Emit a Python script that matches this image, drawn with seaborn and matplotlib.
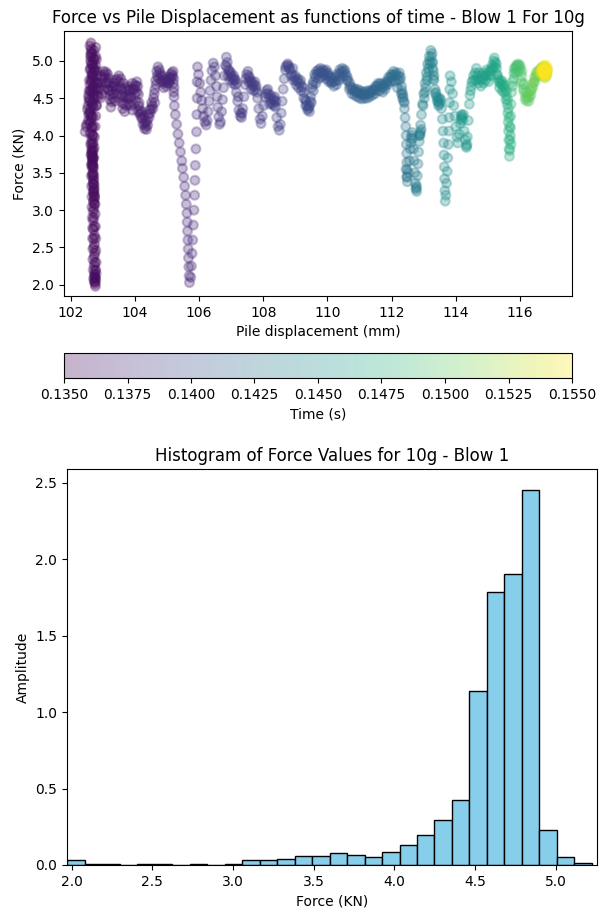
import numpy as np
import pandas as pd
import matplotlib
matplotlib.use("Agg")
import matplotlib.pyplot as plt
import seaborn as sns
from matplotlib.colors import Normalize
from matplotlib.cm import ScalarMappable
from matplotlib.ticker import FormatStrFormatter

# ---------------------------------------------------------------
# Blow 1 (10g): force vs pile displacement, sampled in time order
# ---------------------------------------------------------------

# initial impact at ~102.7 mm (force swings 2 -> 5.2 kN several times)
impact_disp = [102.62, 102.64, 102.62, 102.63, 102.64, 102.63, 102.66, 102.68, 102.70, 102.70,
               102.71, 102.71, 102.70, 102.70, 102.69, 102.68, 102.67, 102.67, 102.68, 102.69,
               102.70, 102.70, 102.71, 102.72, 102.72, 102.73, 102.74, 102.74, 102.75, 102.75,
               102.76, 102.76, 102.76, 102.77, 102.78, 102.79, 102.79, 102.78, 102.78, 102.77,
               102.76, 102.75, 102.74, 102.72, 102.70, 102.69, 102.68, 102.67, 102.66, 102.67,
               102.68, 102.68, 102.66, 102.66, 102.66, 102.66, 102.67, 102.68, 102.69, 102.70,
               102.71, 102.72, 102.73, 102.74, 102.74, 102.72, 102.68, 102.62, 102.55, 102.48,
               102.45, 102.50, 102.58, 102.66, 102.72, 102.78, 102.74, 102.70, 102.68, 102.70,
               102.74, 102.80, 102.86]
impact_force = [4.60, 4.75, 4.90, 5.05, 5.16, 5.24, 5.10, 4.95, 4.80, 4.65,
                4.50, 4.38, 4.25, 4.12, 4.00, 3.88, 3.78, 3.68, 3.58, 3.46,
                3.35, 3.24, 3.13, 3.02, 2.90, 2.78, 2.66, 2.54, 2.42, 2.30,
                2.19, 2.09, 2.01, 1.98, 2.06, 2.15, 2.30, 2.46, 2.62, 2.78,
                2.95, 3.08, 3.20, 3.30, 3.42, 3.55, 3.65, 3.74, 3.83, 3.72,
                3.62, 3.70, 3.80, 3.95, 4.10, 4.26, 4.42, 4.58, 4.74, 4.90,
                5.04, 5.14, 5.02, 4.86, 4.70, 4.55, 4.40, 4.28, 4.20, 4.12,
                4.05, 4.15, 4.30, 4.45, 4.60, 4.72, 4.88, 5.00, 4.82, 4.62,
                4.48, 4.40, 4.52]
impact_time = [0.13500, 0.13501, 0.13502, 0.13504, 0.13505, 0.13506, 0.13507, 0.13508, 0.13510, 0.13511,
               0.13512, 0.13513, 0.13514, 0.13516, 0.13517, 0.13518, 0.13519, 0.13520, 0.13522, 0.13523,
               0.13524, 0.13525, 0.13526, 0.13528, 0.13529, 0.13530, 0.13531, 0.13532, 0.13534, 0.13535,
               0.13536, 0.13537, 0.13538, 0.13540, 0.13541, 0.13542, 0.13543, 0.13544, 0.13546, 0.13547,
               0.13548, 0.13549, 0.13550, 0.13552, 0.13553, 0.13554, 0.13555, 0.13556, 0.13558, 0.13559,
               0.13560, 0.13561, 0.13562, 0.13564, 0.13565, 0.13566, 0.13567, 0.13568, 0.13570, 0.13571,
               0.13572, 0.13573, 0.13574, 0.13576, 0.13577, 0.13578, 0.13579, 0.13580, 0.13582, 0.13583,
               0.13584, 0.13585, 0.13586, 0.13588, 0.13589, 0.13590, 0.13591, 0.13592, 0.13594, 0.13595,
               0.13596, 0.13597, 0.13598]

# further oscillation samples at the impact location
impact2_disp = [102.60, 102.62, 102.64, 102.66, 102.64, 102.62, 102.60, 102.62, 102.64, 102.66,
                102.68, 102.70, 102.71, 102.70, 102.69, 102.70, 102.72, 102.73, 102.74, 102.75,
                102.74, 102.72, 102.70, 102.68, 102.66, 102.65, 102.64, 102.63, 102.62, 102.60,
                102.58, 102.57, 102.58, 102.60, 102.62, 102.64,
                102.74, 102.75, 102.77, 102.78,
                102.80, 102.84, 102.88, 102.82, 102.78, 102.56, 102.52]
impact2_force = [5.20, 5.08, 4.96, 4.84, 4.72, 4.60, 4.48, 4.36, 4.24, 4.12,
                 4.00, 3.90, 3.80, 3.70, 3.60, 3.50, 3.40, 3.28, 3.18, 3.08,
                 3.16, 3.26, 3.36, 3.48, 3.62, 3.76, 3.90, 4.04, 4.18, 4.32,
                 4.46, 4.60, 4.74, 4.88, 5.00, 5.12,
                 2.12, 2.04, 2.10, 2.20,
                 4.62, 4.70, 4.64, 4.80, 4.94, 4.50, 4.35]
impact2_time = [0.13520, 0.13521, 0.13523, 0.13524, 0.13526, 0.13527, 0.13529, 0.13530, 0.13532, 0.13533,
                0.13535, 0.13536, 0.13538, 0.13539, 0.13541, 0.13542, 0.13544, 0.13545, 0.13547, 0.13548,
                0.13550, 0.13551, 0.13553, 0.13554, 0.13556, 0.13557, 0.13559, 0.13560, 0.13562, 0.13563,
                0.13565, 0.13566, 0.13568, 0.13569, 0.13571, 0.13572,
                0.13540, 0.13541, 0.13542, 0.13543,
                0.13585, 0.13587, 0.13589, 0.13591, 0.13593, 0.13580, 0.13582]

impact3_disp = [102.78, 102.80, 102.82, 102.84, 102.82, 102.80, 102.78, 102.76, 102.74, 102.73,
                102.72, 102.71, 102.72, 102.73, 102.72, 102.71, 102.70, 102.70, 102.71, 102.72,
                102.72, 102.73, 102.73, 102.74, 102.74,
                102.71, 102.70, 102.69, 102.69, 102.68, 102.68, 102.67, 102.66, 102.66, 102.65,
                102.64, 102.64, 102.63, 102.62, 102.60, 102.58, 102.56, 102.54, 102.56, 102.60,
                102.66, 102.72, 102.78]
impact3_force = [5.18, 5.02, 4.86, 4.70, 4.54, 4.40, 4.26, 4.12, 3.98, 3.84,
                 3.70, 3.58, 3.46, 3.34, 3.22, 3.10, 2.98, 2.86, 2.74, 2.62,
                 2.50, 2.38, 2.26, 2.14, 2.04,
                 2.08, 2.20, 2.34, 2.48, 2.62, 2.76, 2.90, 3.04, 3.18, 3.32,
                 3.46, 3.60, 3.74, 3.88, 4.02, 4.16, 4.28, 4.40, 4.54, 4.68,
                 4.80, 4.92, 5.06]
impact3_time = [0.13525, 0.13526, 0.13528, 0.13529, 0.13531, 0.13532, 0.13534, 0.13535, 0.13537, 0.13538,
                0.13540, 0.13541, 0.13543, 0.13544, 0.13546, 0.13547, 0.13549, 0.13550, 0.13552, 0.13553,
                0.13555, 0.13556, 0.13558, 0.13559, 0.13561,
                0.13562, 0.13564, 0.13565, 0.13567, 0.13568, 0.13570, 0.13571, 0.13573, 0.13574, 0.13576,
                0.13577, 0.13579, 0.13580, 0.13582, 0.13583, 0.13585, 0.13586, 0.13588, 0.13589, 0.13591,
                0.13592, 0.13594, 0.13595]

# plateau between 102.9 and 105.2 mm
plateau_disp = [102.90, 102.95, 103.00, 103.05, 103.10, 103.15, 103.18, 103.20, 103.22, 103.25,
                103.28, 103.32, 103.36, 103.40, 103.45, 103.50, 103.55, 103.58, 103.60, 103.62,
                103.66, 103.70, 103.74, 103.78, 103.82, 103.85, 103.88, 103.92, 103.96, 104.00,
                104.03, 104.06, 104.09, 104.11, 104.13, 104.16, 104.20, 104.25, 104.30, 104.34,
                104.38, 104.42, 104.46, 104.50, 104.54, 104.58, 104.62, 104.65, 104.68, 104.72,
                104.76, 104.80, 104.85, 104.90, 104.95, 105.00, 105.05, 105.10, 105.15, 105.19,
                105.21, 105.22, 105.22]
plateau_force = [4.62, 4.70, 4.76, 4.82, 4.85, 4.82, 4.72, 4.60, 4.48, 4.38,
                 4.45, 4.56, 4.66, 4.74, 4.76, 4.72, 4.64, 4.54, 4.44, 4.36,
                 4.42, 4.52, 4.62, 4.66, 4.60, 4.50, 4.40, 4.34, 4.42, 4.55,
                 4.66, 4.72, 4.66, 4.55, 4.44, 4.34, 4.24, 4.15, 4.09, 4.12,
                 4.20, 4.28, 4.34, 4.36, 4.40, 4.50, 4.62, 4.74, 4.86, 4.92,
                 4.88, 4.80, 4.74, 4.70, 4.72, 4.74, 4.70, 4.76, 4.84, 4.86,
                 4.76, 4.64, 4.52]
plateau_time = [0.13600, 0.13602, 0.13604, 0.13606, 0.13608, 0.13610, 0.13612, 0.13614, 0.13616, 0.13617,
                0.13619, 0.13621, 0.13623, 0.13625, 0.13627, 0.13629, 0.13631, 0.13633, 0.13635, 0.13637,
                0.13639, 0.13641, 0.13643, 0.13645, 0.13647, 0.13648, 0.13650, 0.13652, 0.13654, 0.13656,
                0.13658, 0.13660, 0.13662, 0.13664, 0.13666, 0.13668, 0.13670, 0.13672, 0.13674, 0.13676,
                0.13678, 0.13679, 0.13681, 0.13683, 0.13685, 0.13687, 0.13689, 0.13691, 0.13693, 0.13695,
                0.13697, 0.13699, 0.13701, 0.13703, 0.13705, 0.13707, 0.13709, 0.13710, 0.13712, 0.13714,
                0.13716, 0.13718, 0.13720]

plateau2_disp = [102.92, 102.98, 103.04, 103.10, 103.16, 103.22, 103.28, 103.34, 103.40, 103.46,
                 103.52, 103.58, 103.64, 103.70, 103.76, 103.82, 103.88, 103.94, 104.00, 104.06,
                 104.12, 104.18, 104.24, 104.30, 104.36, 104.40, 104.48, 104.56, 104.62, 104.70,
                 104.78, 104.86, 104.94, 105.02, 105.08, 105.14, 105.20, 105.21]
plateau2_force = [4.50, 4.56, 4.62, 4.70, 4.62, 4.54, 4.60, 4.70, 4.62, 4.56,
                  4.50, 4.62, 4.70, 4.64, 4.50, 4.42, 4.52, 4.62, 4.68, 4.58,
                  4.40, 4.30, 4.22, 4.16, 4.08, 4.14, 4.30, 4.36, 4.44, 4.80,
                  4.84, 4.80, 4.76, 4.70, 4.72, 4.78, 4.70, 4.58]
plateau2_time = [0.13602, 0.13605, 0.13608, 0.13611, 0.13614, 0.13617, 0.13620, 0.13623, 0.13626, 0.13629,
                 0.13632, 0.13635, 0.13638, 0.13641, 0.13644, 0.13647, 0.13650, 0.13653, 0.13656, 0.13659,
                 0.13662, 0.13665, 0.13668, 0.13671, 0.13674, 0.13677, 0.13680, 0.13683, 0.13686, 0.13689,
                 0.13692, 0.13695, 0.13698, 0.13701, 0.13704, 0.13707, 0.13710, 0.13713]

plateau3_disp = [102.96, 103.02, 103.08, 103.14, 103.20, 103.26, 103.32, 103.38, 103.44, 103.50,
                 103.56, 103.62, 103.68, 103.74, 103.80, 103.86, 103.92, 103.98, 104.04, 104.10,
                 104.16, 104.22, 104.28, 104.34, 104.44, 104.52, 104.60, 104.66, 104.74, 104.82,
                 104.90, 104.98, 105.06, 105.12, 105.18]
plateau3_force = [4.80, 4.86, 4.78, 4.70, 4.76, 4.66, 4.50, 4.46, 4.64, 4.80,
                  4.76, 4.52, 4.32, 4.40, 4.54, 4.62, 4.70, 4.62, 4.46, 4.32,
                  4.28, 4.32, 4.26, 4.18, 4.24, 4.44, 4.56, 4.68, 4.76, 4.72,
                  4.64, 4.66, 4.78, 4.82, 4.80]
plateau3_time = [0.13604, 0.13607, 0.13610, 0.13613, 0.13616, 0.13619, 0.13622, 0.13625, 0.13628, 0.13631,
                 0.13634, 0.13637, 0.13640, 0.13643, 0.13646, 0.13649, 0.13652, 0.13655, 0.13658, 0.13661,
                 0.13664, 0.13667, 0.13670, 0.13673, 0.13679, 0.13684, 0.13689, 0.13692, 0.13697, 0.13702,
                 0.13706, 0.13709, 0.13712, 0.13714, 0.13716]

# second deep drop near 105.7 mm
drop_disp = [105.23, 105.26, 105.30, 105.34, 105.38, 105.42, 105.46, 105.48, 105.52, 105.55,
             105.58, 105.60, 105.62, 105.63, 105.64, 105.65, 105.66, 105.67, 105.68, 105.69,
             105.70,
             105.74, 105.76, 105.78, 105.80, 105.82, 105.84, 105.86, 105.87, 105.88, 105.90,
             105.92, 105.93, 105.94, 105.94, 105.95]
drop_force = [4.40, 4.28, 4.15, 4.02, 3.90, 3.78, 3.66, 3.56, 3.44, 3.32,
              3.20, 3.08, 2.96, 2.84, 2.72, 2.60, 2.48, 2.36, 2.24, 2.12,
              2.03,
              2.10, 2.25, 2.42, 2.60, 2.80, 3.00, 3.20, 3.40, 3.60, 3.82,
              4.05, 4.28, 4.50, 4.72, 4.92]
drop_time = [0.13722, 0.13723, 0.13724, 0.13725, 0.13726, 0.13727, 0.13728, 0.13729, 0.13730, 0.13731,
             0.13732, 0.13733, 0.13734, 0.13735, 0.13736, 0.13737, 0.13738, 0.13739, 0.13740, 0.13741,
             0.13742,
             0.13743, 0.13744, 0.13745, 0.13746, 0.13747, 0.13748, 0.13749, 0.13750, 0.13751, 0.13752,
             0.13753, 0.13754, 0.13755, 0.13756, 0.13757]

# oscillations between 106 and 108.8 mm
osc_disp = [105.98, 106.02, 106.05, 106.08, 106.11, 106.14, 106.18, 106.22, 106.25,
            106.28, 106.31, 106.34, 106.37, 106.40, 106.44, 106.48,
            106.51, 106.54, 106.56, 106.58, 106.61, 106.64, 106.67,
            106.70, 106.73, 106.76, 106.79, 106.82, 106.85, 106.88,
            106.92, 106.97, 107.02, 107.07, 107.12, 107.16, 107.20, 107.24, 107.28, 107.32,
            107.36, 107.40, 107.44, 107.48, 107.52, 107.57, 107.62, 107.67, 107.72, 107.77,
            107.82, 107.86, 107.90, 107.93, 107.97, 108.01, 108.05, 108.10, 108.15, 108.20,
            108.25, 108.30, 108.35, 108.38, 108.42, 108.46, 108.50, 108.53, 108.56, 108.59,
            108.62, 108.65, 108.69, 108.74, 108.79]
osc_force = [4.82, 4.70, 4.58, 4.47, 4.36, 4.26, 4.18, 4.14, 4.20,
             4.32, 4.46, 4.60, 4.74, 4.87, 4.97, 4.92,
             4.80, 4.66, 4.52, 4.38, 4.25, 4.15, 4.18,
             4.32, 4.48, 4.64, 4.80, 4.94, 5.05, 4.98,
             4.88, 4.82, 4.78, 4.74, 4.68, 4.58, 4.46, 4.34, 4.26, 4.24,
             4.36, 4.52, 4.68, 4.82, 4.86, 4.78, 4.70, 4.66, 4.68, 4.62,
             4.50, 4.36, 4.22, 4.16, 4.26, 4.40, 4.52, 4.60, 4.56, 4.50,
             4.44, 4.42, 4.46, 4.38, 4.24, 4.12, 4.07, 4.15, 4.30, 4.46,
             4.62, 4.76, 4.88, 4.94, 4.93]
osc_time = [0.13760, 0.13762, 0.13764, 0.13766, 0.13768, 0.13769, 0.13771, 0.13773, 0.13775, 0.13777,
            0.13779, 0.13781, 0.13783, 0.13785, 0.13786, 0.13788, 0.13790, 0.13792, 0.13794, 0.13796,
            0.13798, 0.13800, 0.13802, 0.13803, 0.13805, 0.13807, 0.13809, 0.13811, 0.13813, 0.13815,
            0.13817, 0.13819, 0.13820, 0.13822, 0.13824, 0.13826, 0.13828, 0.13830, 0.13832, 0.13834,
            0.13836, 0.13837, 0.13839, 0.13841, 0.13843, 0.13845, 0.13847, 0.13849, 0.13851, 0.13853,
            0.13854, 0.13856, 0.13858, 0.13860, 0.13862, 0.13864, 0.13866, 0.13868, 0.13870, 0.13871,
            0.13873, 0.13875, 0.13877, 0.13879, 0.13881, 0.13883, 0.13885, 0.13887, 0.13888, 0.13890,
            0.13892, 0.13894, 0.13896, 0.13898, 0.13900]

osc2_disp = [106.90, 106.96, 107.04, 107.10, 107.18, 107.55, 107.62, 107.70, 107.78,
             108.20, 108.28, 108.34, 108.40,
             106.86, 106.94, 107.00, 107.08, 107.14, 107.22, 107.30, 107.34, 107.46, 107.54,
             107.60, 107.66, 107.74, 107.80, 108.08, 108.14, 108.22, 108.32, 108.36, 108.70,
             108.76, 108.82]
osc2_force = [4.80, 4.74, 4.70, 4.76, 4.70, 4.72, 4.62, 4.60, 4.66,
              4.42, 4.48, 4.40, 4.46,
              4.92, 4.86, 4.84, 4.80, 4.74, 4.52, 4.30, 4.30, 4.76, 4.80,
              4.74, 4.72, 4.72, 4.58, 4.56, 4.62, 4.54, 4.50, 4.52, 4.92,
              4.96, 4.90]
osc2_time = [0.13812, 0.13815, 0.13818, 0.13821, 0.13824, 0.13844, 0.13847, 0.13850, 0.13853,
             0.13868, 0.13871, 0.13874, 0.13877,
             0.13810, 0.13814, 0.13817, 0.13820, 0.13823, 0.13827, 0.13831, 0.13833, 0.13840, 0.13844,
             0.13847, 0.13850, 0.13853, 0.13856, 0.13866, 0.13869, 0.13872, 0.13876, 0.13878, 0.13894,
             0.13897, 0.13901]

# steady push from 108.8 to 112.2 mm
steady_disp = [108.84, 108.90, 108.96, 109.02, 109.08, 109.14, 109.20, 109.26, 109.31, 109.36,
               109.40, 109.44, 109.48, 109.52, 109.56, 109.62, 109.68, 109.74, 109.80, 109.86,
               109.92, 109.98, 110.04, 110.10, 110.16, 110.22, 110.28, 110.34, 110.40, 110.46,
               110.52, 110.58, 110.64, 110.70, 110.76, 110.82, 110.88, 110.94, 111.00, 111.06,
               111.12, 111.18, 111.24, 111.30, 111.36, 111.42, 111.48, 111.54, 111.60, 111.66,
               111.72, 111.78, 111.84, 111.90, 111.96, 112.02, 112.08, 112.14, 112.20]
steady_force = [4.88, 4.82, 4.78, 4.74, 4.72, 4.70, 4.66, 4.58, 4.48, 4.40,
                4.36, 4.40, 4.52, 4.64, 4.72, 4.78, 4.82, 4.84, 4.86, 4.88,
                4.86, 4.82, 4.80, 4.78, 4.76, 4.72, 4.74, 4.80, 4.84, 4.86,
                4.86, 4.82, 4.74, 4.66, 4.62, 4.60, 4.58, 4.58, 4.56, 4.55,
                4.54, 4.55, 4.56, 4.56, 4.58, 4.60, 4.62, 4.66, 4.68, 4.66,
                4.64, 4.66, 4.70, 4.74, 4.78, 4.80, 4.82, 4.80, 4.74]
steady_time = [0.13905, 0.13910, 0.13916, 0.13921, 0.13927, 0.13932, 0.13938, 0.13943, 0.13948, 0.13954,
               0.13959, 0.13965, 0.13970, 0.13976, 0.13981, 0.13986, 0.13992, 0.13997, 0.14003, 0.14008,
               0.14014, 0.14019, 0.14024, 0.14030, 0.14035, 0.14041, 0.14046, 0.14052, 0.14057, 0.14062,
               0.14068, 0.14073, 0.14079, 0.14084, 0.14090, 0.14095, 0.14100, 0.14106, 0.14111, 0.14117,
               0.14122, 0.14128, 0.14133, 0.14138, 0.14144, 0.14149, 0.14155, 0.14160, 0.14166, 0.14171,
               0.14176, 0.14182, 0.14187, 0.14193, 0.14198, 0.14204, 0.14209, 0.14214, 0.14220]

steady2_disp = [108.86, 108.94, 109.02, 109.10, 109.18, 109.26, 109.32, 109.38, 109.44, 109.50,
                109.56, 109.64, 109.72, 109.80, 109.88, 109.96, 110.04, 110.12, 110.20, 110.28,
                110.36, 110.44, 110.52, 110.60, 110.68, 110.76, 110.84, 110.92, 111.00, 111.08,
                111.16, 111.24, 111.32, 111.40, 111.48, 111.56, 111.64, 111.72, 111.80, 111.88,
                111.96, 112.04, 112.12, 112.18]
steady2_force = [4.80, 4.74, 4.68, 4.64, 4.60, 4.50, 4.40, 4.34, 4.32, 4.44,
                 4.60, 4.70, 4.76, 4.78, 4.80, 4.76, 4.72, 4.70, 4.66, 4.68,
                 4.74, 4.78, 4.80, 4.74, 4.62, 4.56, 4.54, 4.52, 4.50, 4.49,
                 4.50, 4.50, 4.52, 4.54, 4.56, 4.60, 4.60, 4.58, 4.62, 4.68,
                 4.72, 4.74, 4.72, 4.64]
steady2_time = [0.13907, 0.13914, 0.13921, 0.13928, 0.13935, 0.13942, 0.13949, 0.13956, 0.13963, 0.13970,
                0.13978, 0.13985, 0.13992, 0.13999, 0.14006, 0.14013, 0.14020, 0.14027, 0.14034, 0.14041,
                0.14049, 0.14056, 0.14063, 0.14070, 0.14077, 0.14084, 0.14091, 0.14098, 0.14105, 0.14112,
                0.14120, 0.14127, 0.14134, 0.14141, 0.14148, 0.14155, 0.14162, 0.14169, 0.14176, 0.14183,
                0.14191, 0.14198, 0.14205, 0.14212]

steady3_disp = [108.92, 109.00, 109.08, 109.16, 109.24, 109.34, 109.42, 109.46, 109.54, 109.60,
                109.66, 109.72, 109.78, 109.84, 109.90, 109.96, 110.02, 110.08, 110.14, 110.22,
                110.30, 110.38, 110.46, 110.54, 110.62, 110.70, 110.78, 110.86, 110.94, 111.02,
                111.10, 111.18, 111.26, 111.34, 111.42, 111.50, 111.58, 111.66, 111.74, 111.82,
                111.90, 111.98, 112.06, 112.14, 112.22]
steady3_force = [4.90, 4.80, 4.76, 4.74, 4.64, 4.46, 4.38, 4.46, 4.68, 4.82,
                 4.86, 4.88, 4.90, 4.84, 4.82, 4.88, 4.84, 4.74, 4.72, 4.78,
                 4.82, 4.88, 4.90, 4.88, 4.78, 4.70, 4.64, 4.62, 4.62, 4.60,
                 4.58, 4.59, 4.60, 4.60, 4.62, 4.66, 4.70, 4.70, 4.68, 4.72,
                 4.78, 4.82, 4.86, 4.84, 4.80]
steady3_time = [0.13910, 0.13917, 0.13924, 0.13931, 0.13938, 0.13946, 0.13953, 0.13960, 0.13967, 0.13974,
                0.13981, 0.13988, 0.13995, 0.14002, 0.14009, 0.14016, 0.14023, 0.14030, 0.14037, 0.14044,
                0.14051, 0.14058, 0.14065, 0.14072, 0.14079, 0.14086, 0.14093, 0.14100, 0.14107, 0.14114,
                0.14121, 0.14128, 0.14135, 0.14142, 0.14149, 0.14156, 0.14163, 0.14170, 0.14177, 0.14184,
                0.14191, 0.14198, 0.14205, 0.14212, 0.14222]

# rebound drops between 112.2 and 114.6 mm
rebound_disp = [112.24, 112.28, 112.31, 112.34, 112.37, 112.40, 112.42, 112.44, 112.45, 112.46,
                112.47, 112.47, 112.48, 112.48, 112.49, 112.52, 112.55, 112.58, 112.61, 112.64,
                112.66, 112.68, 112.70, 112.72, 112.74, 112.76, 112.78, 112.80, 112.82, 112.84,
                112.86, 112.88, 112.90, 112.93, 112.96, 113.00, 113.04, 113.08, 113.12, 113.17,
                113.22, 113.26, 113.28, 113.30, 113.32, 113.35, 113.40, 113.45, 113.50, 113.55,
                113.58, 113.60, 113.62, 113.63, 113.64, 113.65, 113.66, 113.67, 113.69, 113.71,
                113.73, 113.75, 113.77, 113.78, 113.79, 113.80, 113.81, 113.82, 113.86, 113.90,
                113.94, 113.97, 114.00, 114.03, 114.06, 114.10, 114.14, 114.18, 114.22, 114.26,
                114.30, 114.33, 114.36, 114.39, 114.42, 114.46, 114.50, 114.55]
rebound_force = [4.84, 4.78, 4.66, 4.56, 4.46, 4.36, 4.24, 4.12, 4.00, 3.88,
                 3.76, 3.64, 3.54, 3.44, 3.38, 3.50, 3.66, 3.82, 3.96, 4.04,
                 3.96, 3.82, 3.66, 3.50, 3.36, 3.28, 3.32, 3.46, 3.62, 3.78,
                 3.92, 4.02, 4.14, 4.28, 4.42, 4.56, 4.70, 4.84, 4.96, 5.06,
                 5.14, 5.10, 4.98, 4.86, 4.74, 4.62, 4.52, 4.46, 4.44, 4.36,
                 4.22, 4.06, 3.90, 3.74, 3.58, 3.42, 3.26, 3.12, 3.20, 3.36,
                 3.52, 3.70, 3.88, 4.06, 4.24, 4.44, 4.62, 4.80, 4.72, 4.56,
                 4.40, 4.26, 4.12, 3.98, 3.90, 4.02, 4.16, 4.26, 4.20, 4.06,
                 3.94, 3.86, 3.98, 4.20, 4.42, 4.60, 4.72, 4.80]
rebound_time = [0.14222, 0.14226, 0.14231, 0.14235, 0.14239, 0.14244, 0.14248, 0.14252, 0.14257, 0.14261,
                0.14265, 0.14270, 0.14274, 0.14278, 0.14283, 0.14287, 0.14291, 0.14296, 0.14300, 0.14304,
                0.14309, 0.14313, 0.14317, 0.14322, 0.14326, 0.14330, 0.14335, 0.14339, 0.14343, 0.14348,
                0.14352, 0.14356, 0.14361, 0.14365, 0.14369, 0.14374, 0.14378, 0.14382, 0.14387, 0.14391,
                0.14395, 0.14400, 0.14404, 0.14408, 0.14413, 0.14417, 0.14421, 0.14426, 0.14430, 0.14434,
                0.14439, 0.14443, 0.14447, 0.14452, 0.14456, 0.14460, 0.14465, 0.14469, 0.14473, 0.14478,
                0.14482, 0.14486, 0.14491, 0.14495, 0.14499, 0.14504, 0.14508, 0.14512, 0.14517, 0.14521,
                0.14525, 0.14530, 0.14534, 0.14538, 0.14543, 0.14547, 0.14551, 0.14556, 0.14560, 0.14564,
                0.14569, 0.14573, 0.14577, 0.14582, 0.14586, 0.14590, 0.14595, 0.14600]

rebound2_disp = [113.02, 113.06, 113.10, 113.14, 113.18, 113.24, 113.28, 113.32, 113.38, 113.44,
                 113.48, 113.52, 112.45, 112.47, 112.76, 112.78, 112.88, 112.90, 114.18, 114.20,
                 114.33, 114.35, 112.30, 112.34,
                 112.26, 112.32, 112.36, 112.40, 112.60, 112.62, 112.86, 112.92, 112.98, 113.04,
                 113.10, 113.16, 113.20, 113.26, 113.30, 113.36, 113.42, 113.46, 113.50, 114.16,
                 114.24, 114.44, 114.48, 114.54]
rebound2_force = [4.50, 4.64, 4.78, 4.90, 5.00, 5.06, 4.90, 4.80, 4.58, 4.50,
                  4.42, 4.48, 3.55, 3.45, 3.30, 3.25, 4.00, 4.05, 4.28, 4.24,
                  3.84, 3.88, 4.56, 4.50,
                  4.74, 4.60, 4.52, 4.44, 3.90, 4.00, 4.00, 4.08, 4.40, 4.58,
                  4.74, 4.86, 4.96, 4.98, 4.76, 4.56, 4.46, 4.40, 4.50, 4.22,
                  4.28, 4.54, 4.66, 4.74]
rebound2_time = [0.14376, 0.14380, 0.14384, 0.14388, 0.14392, 0.14396, 0.14402, 0.14406, 0.14418, 0.14422,
                 0.14428, 0.14432, 0.14275, 0.14279, 0.14333, 0.14337, 0.14357, 0.14359, 0.14557, 0.14560,
                 0.14575, 0.14579, 0.14232, 0.14236,
                 0.14228, 0.14236, 0.14240, 0.14245, 0.14302, 0.14306, 0.14354, 0.14362, 0.14370, 0.14377,
                 0.14384, 0.14390, 0.14394, 0.14400, 0.14408, 0.14416, 0.14422, 0.14428, 0.14432, 0.14555,
                 0.14562, 0.14590, 0.14594, 0.14598]

# final approach 114.6 -> 116.6 mm
approach_disp = [114.60, 114.66, 114.72, 114.78, 114.84, 114.90, 114.96, 115.02, 115.08, 115.13,
                 115.18, 115.23, 115.27, 115.30, 115.34, 115.38, 115.43, 115.48, 115.53, 115.57,
                 115.60, 115.62, 115.63, 115.64, 115.65, 115.66, 115.67, 115.68, 115.69, 115.70,
                 115.71, 115.72, 115.74, 115.77, 115.81, 115.86, 115.91, 115.96, 116.01, 116.05,
                 116.09, 116.13, 116.18, 116.24, 116.30, 116.35, 116.40, 116.45, 116.50, 116.55]
approach_force = [4.84, 4.80, 4.76, 4.74, 4.76, 4.80, 4.82, 4.80, 4.86, 4.94,
                  5.00, 4.98, 4.90, 4.80, 4.72, 4.70, 4.68, 4.66, 4.62, 4.54,
                  4.42, 4.30, 4.18, 4.06, 3.94, 3.82, 3.72, 3.80, 3.94, 4.10,
                  4.26, 4.42, 4.58, 4.72, 4.84, 4.90, 4.93, 4.94, 4.90, 4.80,
                  4.68, 4.58, 4.52, 4.50, 4.52, 4.60, 4.70, 4.78, 4.84, 4.86]
approach_time = [0.14605, 0.14611, 0.14617, 0.14623, 0.14629, 0.14635, 0.14641, 0.14647, 0.14653, 0.14659,
                 0.14665, 0.14671, 0.14677, 0.14683, 0.14688, 0.14694, 0.14700, 0.14706, 0.14712, 0.14718,
                 0.14724, 0.14730, 0.14736, 0.14742, 0.14748, 0.14754, 0.14760, 0.14768, 0.14783, 0.14798,
                 0.14813, 0.14828, 0.14843, 0.14858, 0.14873, 0.14888, 0.14903, 0.14918, 0.14933, 0.14948,
                 0.14963, 0.14978, 0.14993, 0.15008, 0.15023, 0.15038, 0.15053, 0.15068, 0.15083, 0.15098]

approach2_disp = [114.62, 114.70, 114.78, 114.86, 114.94, 115.02, 115.10, 115.16, 115.22, 115.28,
                  115.36, 115.44, 115.50, 115.56, 115.80, 115.86, 115.92, 115.98, 116.04, 116.10,
                  116.16, 116.22, 116.28, 116.34, 116.40, 116.46, 116.52]
approach2_force = [4.74, 4.70, 4.66, 4.70, 4.74, 4.72, 4.80, 4.90, 4.92, 4.82,
                   4.64, 4.60, 4.58, 4.48, 4.76, 4.84, 4.86, 4.86, 4.72, 4.62,
                   4.48, 4.46, 4.46, 4.54, 4.64, 4.72, 4.78]
approach2_time = [0.14608, 0.14616, 0.14624, 0.14632, 0.14640, 0.14648, 0.14656, 0.14664, 0.14672, 0.14680,
                  0.14690, 0.14700, 0.14708, 0.14716, 0.14875, 0.14890, 0.14905, 0.14920, 0.14940, 0.14960,
                  0.14980, 0.15000, 0.15015, 0.15030, 0.15045, 0.15060, 0.15075]

approach3_disp = [114.64, 114.72, 114.80, 114.88, 114.96, 115.04, 115.12, 115.20, 115.26, 115.32,
                  115.40, 115.46, 115.52, 115.58, 115.62, 115.64, 115.66, 115.68, 115.70, 115.72,
                  115.76, 115.82, 115.88, 115.94, 116.00, 116.06, 116.12, 116.20, 116.26, 116.32,
                  116.38, 116.44, 116.50, 116.56]
approach3_force = [4.90, 4.84, 4.80, 4.84, 4.88, 4.86, 4.90, 5.04, 4.96, 4.76,
                   4.74, 4.72, 4.68, 4.60, 4.48, 4.36, 4.24, 4.12, 4.00, 3.88,
                   4.66, 4.90, 4.94, 4.96, 4.94, 4.86, 4.70, 4.58, 4.56, 4.60,
                   4.66, 4.72, 4.80, 4.82]
approach3_time = [0.14610, 0.14620, 0.14628, 0.14636, 0.14644, 0.14652, 0.14660, 0.14668, 0.14676, 0.14684,
                  0.14692, 0.14700, 0.14708, 0.14716, 0.14724, 0.14730, 0.14736, 0.14742, 0.14748, 0.14754,
                  0.14800, 0.14870, 0.14890, 0.14910, 0.14930, 0.14950, 0.14970, 0.14990, 0.15005, 0.15020,
                  0.15035, 0.15050, 0.15065, 0.15080]

# pile comes to rest around 116.75 mm
rest_disp = [116.60, 116.65, 116.70, 116.75, 116.80, 116.83, 116.78, 116.72, 116.66, 116.69,
             116.74, 116.80, 116.85, 116.81, 116.75, 116.70, 116.76, 116.79, 116.73, 116.77,
             116.82, 116.78, 116.74, 116.76,
             116.62, 116.68, 116.74, 116.80, 116.86, 116.84, 116.78, 116.72, 116.66, 116.70,
             116.76, 116.82, 116.86, 116.80, 116.74, 116.68, 116.72, 116.78, 116.84, 116.76]
rest_force = [4.88, 4.90, 4.92, 4.90, 4.86, 4.80, 4.77, 4.79, 4.83, 4.88,
              4.93, 4.91, 4.86, 4.82, 4.84, 4.86, 4.88, 4.85, 4.90, 4.92,
              4.89, 4.87, 4.86, 4.89,
              4.84, 4.86, 4.88, 4.90, 4.88, 4.82, 4.80, 4.82, 4.86, 4.92,
              4.94, 4.94, 4.90, 4.86, 4.82, 4.88, 4.84, 4.80, 4.84, 4.86]
rest_time = [0.15110, 0.15130, 0.15150, 0.15170, 0.15190, 0.15210, 0.15230, 0.15250, 0.15270, 0.15290,
             0.15310, 0.15330, 0.15350, 0.15370, 0.15390, 0.15410, 0.15430, 0.15450, 0.15465, 0.15475,
             0.15485, 0.15490, 0.15495, 0.15500,
             0.15300, 0.15320, 0.15340, 0.15360, 0.15380, 0.15400, 0.15415, 0.15430, 0.15440, 0.15450,
             0.15460, 0.15468, 0.15475, 0.15480, 0.15485, 0.15490, 0.15493, 0.15496, 0.15498, 0.15500]

time_range = (0.1350, 0.1550)
time_ticks = [0.1350, 0.1375, 0.1400, 0.1425, 0.1450, 0.1475, 0.1500, 0.1525, 0.1550]
disp_ticks = [102, 104, 106, 108, 110, 112, 114, 116]
force_ticks = [2.0, 2.5, 3.0, 3.5, 4.0, 4.5, 5.0]

# ---------------------------------------------------------------
# Histogram of force values (density per bin)
# ---------------------------------------------------------------
force_bin_range = (1.974, 5.224)
force_bin_count = 30
force_density = [0.030, 0.008, 0.008, 0.003, 0.008, 0.008, 0.003, 0.008, 0.003, 0.008,
                 0.030, 0.030, 0.040, 0.060, 0.060, 0.080, 0.068, 0.050, 0.085, 0.130,
                 0.195, 0.294, 0.425, 1.137, 1.784, 1.905, 2.455, 0.228, 0.053, 0.013]
hist_xticks = [2.0, 2.5, 3.0, 3.5, 4.0, 4.5, 5.0]
hist_yticks = [0.0, 0.5, 1.0, 1.5, 2.0, 2.5]

# ---------------------------------------------------------------
segments = [
    (impact_disp, impact_force, impact_time),
    (impact2_disp, impact2_force, impact2_time),
    (impact3_disp, impact3_force, impact3_time),
    (plateau_disp, plateau_force, plateau_time),
    (plateau2_disp, plateau2_force, plateau2_time),
    (plateau3_disp, plateau3_force, plateau3_time),
    (drop_disp, drop_force, drop_time),
    (osc_disp, osc_force, osc_time),
    (osc2_disp, osc2_force, osc2_time),
    (steady_disp, steady_force, steady_time),
    (steady2_disp, steady2_force, steady2_time),
    (steady3_disp, steady3_force, steady3_time),
    (rebound_disp, rebound_force, rebound_time),
    (rebound2_disp, rebound2_force, rebound2_time),
    (approach_disp, approach_force, approach_time),
    (approach2_disp, approach2_force, approach2_time),
    (approach3_disp, approach3_force, approach3_time),
    (rest_disp, rest_force, rest_time),
]
trace = pd.concat(
    [pd.DataFrame({"disp": d, "force": f, "time": t}) for d, f, t in segments],
    ignore_index=True,
).sort_values("time", kind="stable")

edges = np.linspace(force_bin_range[0], force_bin_range[1], force_bin_count + 1)
hist_df = pd.DataFrame({"force": (edges[:-1] + edges[1:]) / 2, "density": force_density})

W, H = 601, 915
fig = plt.figure(figsize=(W / 100, H / 100), dpi=100)


def frame(left, top, right, bottom):
    return [left / W, 1 - bottom / H, (right - left) / W, (bottom - top) / H]


ax_sc = fig.add_axes(frame(64, 31, 572, 296))
cax = fig.add_axes(frame(64, 353, 572, 378))
ax_hist = fig.add_axes(frame(67, 469, 597, 865))

# scatter coloured by time
sns.scatterplot(data=trace, x="disp", y="force", hue="time", palette="viridis",
                hue_norm=time_range, s=42, alpha=0.3, edgecolor="face",
                linewidth=1.5, legend=False, ax=ax_sc)
ax_sc.set_xlim(101.79, 117.62)
ax_sc.set_ylim(1.85, 5.40)
ax_sc.set_xticks(disp_ticks)
ax_sc.set_yticks(force_ticks)
ax_sc.set_title("Force vs Pile Displacement as functions of time - Blow 1 For 10g", fontsize=12)
ax_sc.set_xlabel("Pile displacement (mm)")
ax_sc.set_ylabel("Force (KN)")

sm = ScalarMappable(norm=Normalize(*time_range), cmap="viridis")
cb = fig.colorbar(sm, cax=cax, orientation="horizontal", alpha=0.3)
cb.set_ticks(time_ticks)
cb.ax.xaxis.set_major_formatter(FormatStrFormatter("%.4f"))
cb.set_label("Time (s)")

# histogram
sns.histplot(data=hist_df, x="force", weights="density", bins=force_bin_count,
             binrange=force_bin_range, color="skyblue", edgecolor="black",
             linewidth=1, alpha=1, ax=ax_hist)
ax_hist.set_xlim(1.972, 5.256)
ax_hist.set_ylim(0, 2.59)
ax_hist.set_xticks(hist_xticks)
ax_hist.set_yticks(hist_yticks)
ax_hist.set_title("Histogram of Force Values for 10g - Blow 1", fontsize=12)
ax_hist.set_xlabel("Force (KN)")
ax_hist.set_ylabel("Amplitude")

fig.savefig("out.png", dpi=100)
